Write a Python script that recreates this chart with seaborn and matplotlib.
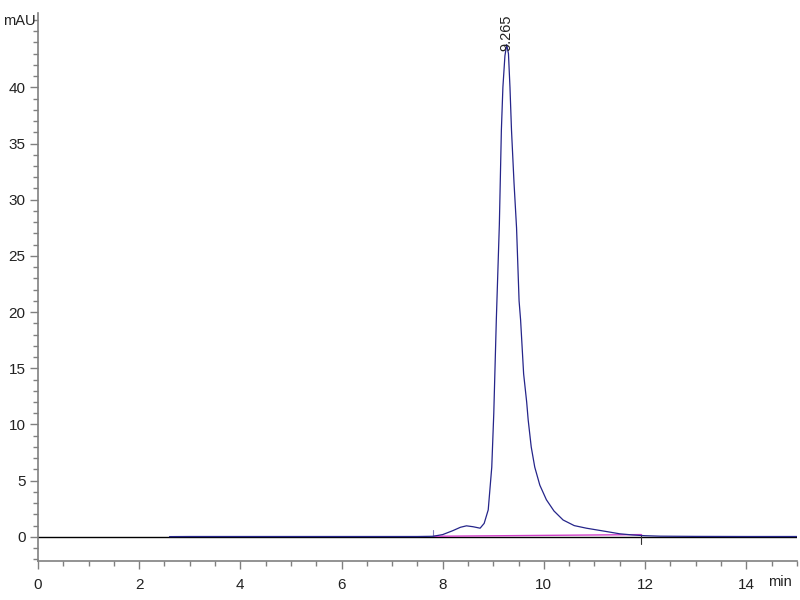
import numpy as np
import pandas as pd
import matplotlib
matplotlib.use("Agg")
import matplotlib.pyplot as plt
import seaborn as sns
from matplotlib.ticker import MultipleLocator

# signal (min, mAU)
time_min = [2.6, 3.0, 4.0, 5.0, 6.0, 7.0, 7.5, 7.81, 8.0, 8.2, 8.35, 8.47, 8.6, 8.74,
            8.82, 8.90, 8.97, 9.01, 9.06, 9.12, 9.16, 9.19, 9.23, 9.265, 9.30, 9.33,
            9.36, 9.41, 9.46, 9.51, 9.54, 9.60, 9.66, 9.69, 9.75, 9.82, 9.92, 10.05,
            10.2, 10.38, 10.6, 10.84, 11.0, 11.24, 11.5, 11.75, 12.0, 12.3, 13.0, 14.0, 15.0]
signal_mau = [0.02, 0.03, 0.03, 0.03, 0.03, 0.03, 0.03, 0.05, 0.2, 0.55, 0.85, 0.98, 0.9, 0.77,
              1.2, 2.4, 6.2, 11.0, 19.3, 27.8, 36.2, 40.0, 42.8, 43.8, 43.0, 40.0,
              36.2, 31.5, 27.5, 21.0, 19.3, 14.5, 12.0, 10.4, 8.0, 6.2, 4.6, 3.3,
              2.3, 1.5, 1.0, 0.77, 0.65, 0.47, 0.27, 0.17, 0.1, 0.06, 0.04, 0.03, 0.03]

# integration baseline under the peak
base_time = [7.81, 11.93]
base_mau = [0.05, 0.2]

peak_rt = 9.265
peak_height = 43.8

sns.set_style("ticks")
plt.rcParams['font.family'] = ['Liberation Sans', 'DejaVu Sans']

fig = plt.figure(figsize=(8, 6), dpi=100)
ax = fig.add_axes([0.0475, 0.065, 0.9485, 0.913])

df = pd.DataFrame({"time": time_min, "signal": signal_mau})
base = pd.DataFrame({"time": base_time, "signal": base_mau})

ax.axhline(0, color="black", lw=1, zorder=1)
sns.lineplot(data=df, x="time", y="signal", ax=ax, color="#25258a", lw=0.9, estimator=None, sort=False, zorder=3)
sns.lineplot(data=base, x="time", y="signal", ax=ax, color="#d040c8", lw=1, estimator=None, zorder=2)

# peak start/end markers
ax.plot([base_time[0], base_time[0]], [base_mau[0], base_mau[0] + 0.6], color="#8080c0", lw=0.8)
ax.plot([base_time[1], base_time[1]], [base_mau[1], base_mau[1] - 0.8], color="#333333", lw=0.8)

ax.text(peak_rt, peak_height - 0.6, f"{peak_rt:.3f}", rotation=90, ha="center", va="bottom",
        fontsize=10.5, color="#222222")

ax.set_xlim(0, 15)
ax.set_ylim(-2.15, 46.6)
ax.xaxis.set_major_locator(MultipleLocator(2))
ax.xaxis.set_minor_locator(MultipleLocator(0.5))
ax.yaxis.set_major_locator(MultipleLocator(5))
ax.yaxis.set_minor_locator(MultipleLocator(1))
ax.set_yticks(np.arange(0, 45, 5))

for s in ["top", "right"]:
    ax.spines[s].set_visible(False)
for s in ["left", "bottom"]:
    ax.spines[s].set_color("#808080")
    ax.spines[s].set_linewidth(1.2)

ax.tick_params(which="major", length=6, width=1, color="#808080", labelsize=11, labelcolor="#222222")
ax.tick_params(axis="x", which="major", pad=6)
ax.tick_params(axis="y", which="major", pad=3)
ax.tick_params(which="minor", length=3.5, width=1, color="#808080")
ax.set_xlabel("")
ax.set_ylabel("")

fig.text(0.004, 0.965, "mAU", fontsize=10.5, color="#222222", ha="left", va="center")
fig.text(0.99, 0.03, "min", fontsize=10.5, color="#222222", ha="right", va="center")

fig.savefig("out.png", dpi=100)
